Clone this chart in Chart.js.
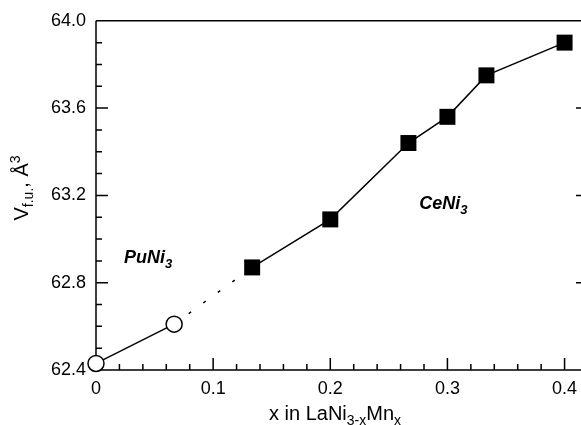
<!DOCTYPE html>
<html>
<head>
<meta charset="utf-8">
<script src="https://cdn.jsdelivr.net/npm/chart.js"></script>
<style>
html, body { margin: 0; padding: 0; overflow: hidden; background: #fff; }
</style>
</head>
<body>
<canvas id="chart" width="600" height="425"></canvas>
<script>
// PuNi3-type (open circles)
const openX = [0, 0.0667];
const openY = [62.43, 62.61];
// dotted link between the two structure types
const gapX = [0.0667, 0.1333];
const gapY = [62.61, 62.87];
// CeNi3-type (filled squares)
const solidX = [0.1333, 0.2, 0.2667, 0.3, 0.3333, 0.4];
const solidY = [62.87, 63.09, 63.44, 63.56, 63.75, 63.90];

const xMajor = [0, 0.1, 0.2, 0.3, 0.4];
const xMinor = [0.02, 0.04, 0.06, 0.08, 0.12, 0.14, 0.16, 0.18, 0.22, 0.24, 0.26, 0.28, 0.32, 0.34, 0.36, 0.38];
const yMajor = [62.4, 62.8, 63.2, 63.6, 64.0];
const yMinor = [62.5, 62.6, 62.7, 62.9, 63.0, 63.1, 63.3, 63.4, 63.5, 63.7, 63.8, 63.9];

const FONT = '"Liberation Sans", Arial, sans-serif';

function pts(xs, ys) {
  return xs.map((x, i) => ({ x: x, y: ys[i] }));
}

function rich(ctx, parts, x, y, size, style) {
  const big = style + size + 'px ' + FONT;
  const small = style + Math.round(size * 0.72) + 'px ' + FONT;
  let w = 0;
  parts.forEach(p => { ctx.font = p[1] ? small : big; w += ctx.measureText(p[0]).width; });
  let cx = x - w / 2;
  parts.forEach(p => {
    ctx.font = p[1] ? small : big;
    const dy = p[1] === 'sub' ? size * 0.25 : p[1] === 'sup' ? -size * 0.42 : 0;
    ctx.fillText(p[0], cx, y + dy);
    cx += ctx.measureText(p[0]).width;
  });
}

const framePlugin = {
  id: 'frame',
  beforeDatasetsDraw(chart) {
    const ctx = chart.ctx;
    const a = chart.chartArea;
    const xs = chart.scales.x, ys = chart.scales.y;
    ctx.save();
    ctx.strokeStyle = '#000';
    ctx.lineWidth = 1.5;
    ctx.beginPath();
    ctx.moveTo(a.left, a.top); ctx.lineTo(a.right, a.top);
    ctx.moveTo(a.left, a.top); ctx.lineTo(a.left, a.bottom);
    ctx.moveTo(a.left, a.bottom); ctx.lineTo(a.right, a.bottom);
    ctx.moveTo(a.right, a.top); ctx.lineTo(a.right, a.bottom);
    xMajor.forEach(v => { const p = xs.getPixelForValue(v); ctx.moveTo(p, a.bottom); ctx.lineTo(p, a.bottom - 12); });
    xMinor.forEach(v => { const p = xs.getPixelForValue(v); ctx.moveTo(p, a.bottom); ctx.lineTo(p, a.bottom - 6); });
    yMajor.forEach(v => {
      const p = ys.getPixelForValue(v);
      ctx.moveTo(a.left, p); ctx.lineTo(a.left + 12, p);
      ctx.moveTo(a.right, p); ctx.lineTo(a.right - 12, p);
    });
    yMinor.forEach(v => {
      const p = ys.getPixelForValue(v);
      ctx.moveTo(a.left, p); ctx.lineTo(a.left + 6, p);
      ctx.moveTo(a.right, p); ctx.lineTo(a.right - 6, p);
    });
    ctx.stroke();
    ctx.restore();
  },
  afterDraw(chart) {
    const ctx = chart.ctx;
    const xs = chart.scales.x, ys = chart.scales.y;
    ctx.save();
    ctx.fillStyle = '#000';
    ctx.textBaseline = 'alphabetic';
    rich(ctx, [['PuNi'], ['3', 'sub']], xs.getPixelForValue(0.0444), ys.getPixelForValue(62.89), 18, 'italic bold ');
    rich(ctx, [['CeNi'], ['3', 'sub']], xs.getPixelForValue(0.2966), ys.getPixelForValue(63.136), 18, 'italic bold ');
    rich(ctx, [['x in LaNi'], ['3-x', 'sub'], ['Mn'], ['x', 'sub']], 335, 420, 20, '');
    ctx.translate(28, 188);
    ctx.rotate(-Math.PI / 2);
    rich(ctx, [['V'], ['f.u.', 'sub'], [', \u00c5'], ['3', 'sup']], 0, 0, 20, '');
    ctx.restore();
  }
};

new Chart(document.getElementById('chart'), {
  type: 'scatter',
  data: {
    datasets: [
      {
        data: pts(openX, openY),
        showLine: true,
        borderColor: '#000',
        borderWidth: 1.5,
        pointStyle: 'circle',
        pointRadius: 8,
        pointBackgroundColor: '#fff',
        pointBorderColor: '#000',
        pointBorderWidth: 1.5,
        clip: false
      },
      {
        data: pts(gapX, gapY),
        showLine: true,
        borderColor: '#000',
        borderWidth: 1.5,
        borderDash: [3, 15],
        pointRadius: 0,
        clip: false
      },
      {
        data: pts(solidX, solidY),
        showLine: true,
        borderColor: '#000',
        borderWidth: 1.5,
        pointStyle: 'rect',
        pointRadius: 11.3,
        pointBackgroundColor: '#000',
        pointBorderColor: '#000',
        pointBorderWidth: 0,
        clip: false
      }
    ]
  },
  options: {
    responsive: false,
    animation: false,
    layout: { padding: { top: 18, right: 12, left: 0, bottom: 0 } },
    plugins: { legend: { display: false }, tooltip: { enabled: false } },
    scales: {
      x: {
        type: 'linear',
        min: 0,
        max: 0.42,
        grid: { display: false, drawTicks: false },
        border: { display: false },
        afterBuildTicks: s => { s.ticks = xMajor.map(v => ({ value: v })); },
        afterFit: s => { s.height = 55; },
        ticks: {
          padding: 8,
          color: '#000',
          font: { family: FONT, size: 18 },
          maxRotation: 0,
          callback: v => v === 0 ? '0' : v.toFixed(1)
        }
      },
      y: {
        type: 'linear',
        min: 62.4,
        max: 64.0,
        grid: { display: false, drawTicks: false },
        border: { display: false },
        afterBuildTicks: s => { s.ticks = yMajor.map(v => ({ value: v })); },
        afterFit: s => { s.width = 96; },
        ticks: {
          padding: 10,
          color: '#000',
          font: { family: FONT, size: 18 },
          callback: v => v.toFixed(1)
        }
      }
    }
  },
  plugins: [framePlugin]
});
</script>
</body>
</html>
